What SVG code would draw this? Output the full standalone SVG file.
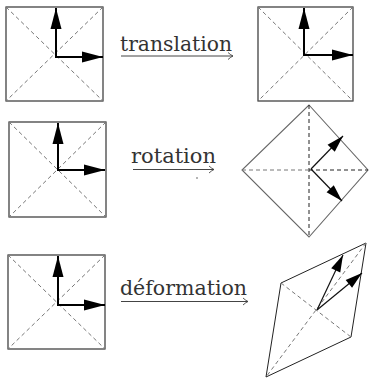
<svg xmlns="http://www.w3.org/2000/svg" width="373" height="379" viewBox="0 0 373 379">
<style>
.frame{fill:none;stroke:#333;stroke-width:1.2}
.diag{fill:none;stroke:#777;stroke-width:1;stroke-dasharray:4 3}
.dk{fill:none;stroke:#222;stroke-width:1;stroke-dasharray:4 3}
.vec{fill:none;stroke:#000;stroke-width:2;marker-end:url(#big)}
.vec2{fill:none;stroke:#111;stroke-width:1.2;marker-end:url(#mid)}
.lbl{font-family:"DejaVu Serif","Liberation Serif",serif;font-size:20px;fill:#333}
.map{fill:none;stroke:#444;stroke-width:1;marker-end:url(#hook)}
</style>
<defs>
<marker id="big" markerUnits="userSpaceOnUse" viewBox="-22 -7 23 14" refX="0" refY="0" markerWidth="23" markerHeight="14" orient="auto">
<path d="M0,0 L-21,-5.5 L-21,5.5 Z" fill="#000"/>
</marker>
<marker id="mid" markerUnits="userSpaceOnUse" viewBox="-18 -6 19 12" refX="0" refY="0" markerWidth="19" markerHeight="12" orient="auto">
<path d="M0,0 L-17,-5 L-17,5 Z" fill="#000"/>
</marker>
<marker id="hook" markerUnits="userSpaceOnUse" viewBox="-7 -5 8 10" refX="0" refY="0" markerWidth="8" markerHeight="10" orient="auto">
<path d="M-5,-3.5 Q-2,-0.8 0,0 Q-2,0.8 -5,3.5" fill="none" stroke="#444" stroke-width="0.9"/>
</marker>
</defs>

<g id="square-1">
<rect class="frame" x="6" y="7" width="97" height="94"/>
<line class="diag" x1="6" y1="7" x2="103" y2="101"/>
<line class="diag" x1="103" y1="7" x2="6" y2="101"/>
<line class="vec" x1="56" y1="57" x2="56" y2="8"/>
<line class="vec" x1="55" y1="57" x2="103" y2="57"/>
</g>

<g id="square-translated">
<rect class="frame" x="258" y="7" width="95" height="94"/>
<line class="diag" x1="258" y1="7" x2="353" y2="101"/>
<line class="diag" x1="353" y1="7" x2="258" y2="101"/>
<line class="vec" x1="304" y1="55" x2="304" y2="8"/>
<line class="vec" x1="303" y1="55" x2="353" y2="55"/>
</g>

<g id="square-2">
<rect class="frame" x="9" y="122" width="97" height="95"/>
<line class="diag" x1="9" y1="122" x2="106" y2="217"/>
<line class="diag" x1="106" y1="122" x2="9" y2="217"/>
<line class="vec" x1="58" y1="170" x2="58" y2="123"/>
<line class="vec" x1="57" y1="170" x2="105" y2="170"/>
</g>

<g id="square-rotated">
<polygon points="309,105 368,170 309,237 242,170" fill="none" stroke="#666" stroke-width="1.1"/>
<line class="dk" x1="309" y1="105" x2="309" y2="237"/>
<line class="diag" x1="242" y1="170" x2="309" y2="170"/>
<line class="dk" x1="309" y1="170" x2="368" y2="170"/>
<line class="vec2" x1="311" y1="169" x2="343" y2="136"/>
<line class="vec2" x1="311" y1="169" x2="342" y2="201"/>
</g>

<g id="square-3">
<rect class="frame" x="8" y="255" width="97" height="94"/>
<line class="diag" x1="8" y1="255" x2="105" y2="349"/>
<line class="diag" x1="105" y1="255" x2="8" y2="349"/>
<line class="vec" x1="58" y1="305" x2="58" y2="256"/>
<line class="vec" x1="57" y1="305" x2="105" y2="305"/>
</g>

<g id="square-deformed">
<polygon points="366,243 281,283 266,377 351,337" fill="none" stroke="#222" stroke-width="1"/>
<line class="diag" x1="366" y1="243" x2="266" y2="377"/>
<line class="diag" x1="281" y1="283" x2="351" y2="337"/>
<line class="vec2" x1="317" y1="310" x2="343" y2="255"/>
<line class="vec2" x1="317" y1="310" x2="362" y2="273"/>
</g>

<g id="connectors">
<text class="lbl" x="120" y="51" textLength="112" lengthAdjust="spacingAndGlyphs">translation</text>
<line class="map" x1="121" y1="56" x2="233" y2="56"/>
<text class="lbl" x="131" y="163" textLength="85" lengthAdjust="spacingAndGlyphs">rotation</text>
<line class="map" x1="133" y1="169.5" x2="214" y2="169.5"/>
<circle cx="197" cy="178" r="0.8" fill="#555"/>
<text class="lbl" x="120" y="295" textLength="127" lengthAdjust="spacingAndGlyphs">déformation</text>
<line class="map" x1="121" y1="301.5" x2="248" y2="301.5"/>
</g>
</svg>
